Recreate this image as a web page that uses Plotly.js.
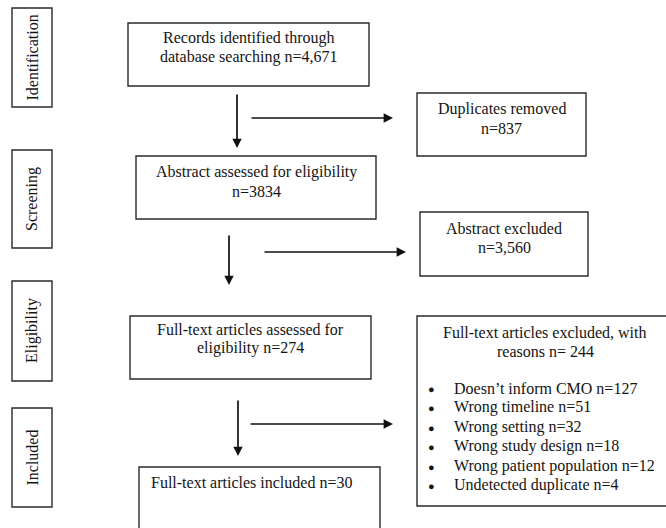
<!DOCTYPE html>
<html>
<head>
<meta charset="utf-8">
<script src="https://cdn.plot.ly/plotly-3.0.1.min.js"></script>
<style>html,body{margin:0;padding:0;background:#fff;}#chart{width:666px;height:528px;}</style>
</head>
<body>
<div id="chart"></div>
<script>
// ---- data ----
var stages = ["Identification", "Screening", "Eligibility", "Included"];
var flowLabels = [
  ["Records identified through", "database searching n=4,671"],
  ["Abstract assessed for eligibility", "n=3834"],
  ["Full-text articles assessed for", "eligibility n=274"],
  ["Full-text articles included n=30"]
];
var flowCounts = [4671, 3834, 274, 30];
var exclLabels = [
  ["Duplicates removed", "n=837"],
  ["Abstract excluded", "n=3,560"],
  ["Full-text articles excluded, with", "reasons n= 244"]
];
var exclCounts = [837, 3560, 244];
var reasons = ["Doesn\u2019t inform CMO", "Wrong timeline", "Wrong setting", "Wrong study design", "Wrong patient population", "Undetected duplicate"];
var reasonCounts = [127, 51, 32, 18, 12, 4];

// ---- layout geometry (pixels) ----
var stageBoxes = [[12, 8, 52, 107], [12, 150, 52, 248], [12, 281, 52, 381], [12, 408, 52, 507]];
var flowBoxes = [[128, 23, 369, 86], [136, 156, 376, 219], [130, 316, 371, 379], [139, 467, 380, 560]];
var flowTextY = [38, 172, 329, 482];
var exclBoxes = [[417, 93, 586, 156], [420, 212, 588, 276], [417, 316, 700, 506]];
var exclTextY = [109, 228, 332];
var downArrows = [[237, 93, 148], [229, 234, 285], [238, 399, 456]];
var sideArrows = [[250, 393, 118], [263, 406, 252], [249, 393, 424]];
var LH = 19.2;

var FONT = "Liberation Serif, Times New Roman, serif";
var TXT = "#141414";
var LINE = "#2a2a2a";
var shapes = [];
var ann = [];

function box(b) {
  shapes.push({type: "rect", xref: "x", yref: "y", x0: b[0], y0: b[1], x1: b[2], y1: b[3],
    line: {color: LINE, width: 1.4}, fillcolor: "rgba(0,0,0,0)"});
}
function label(x, y, t, opts, size) {
  var a = {x: x, y: y, xref: "x", yref: "y", text: t, showarrow: false,
    font: {family: FONT, size: size || 16, color: TXT}, xanchor: "center", yanchor: "middle", align: "center"};
  for (var k in opts) a[k] = opts[k];
  ann.push(a);
}
function arrow(x0, y0, x1, y1) {
  ann.push({x: x1, y: y1, ax: x0, ay: y0, xref: "x", yref: "y", axref: "x", ayref: "y",
    text: "", showarrow: true, arrowhead: 2, arrowsize: 1.1, arrowwidth: 1.7, arrowcolor: "#111", standoff: 0});
}

stages.forEach(function (s, i) {
  var b = stageBoxes[i];
  box(b);
  label((b[0] + b[2]) / 2, (b[1] + b[3]) / 2, s, {textangle: -90});
});

flowLabels.forEach(function (lines, i) {
  var b = flowBoxes[i];
  box(b);
  lines.forEach(function (t, j) {
    if (i < 3) label((b[0] + b[2]) / 2, flowTextY[i] + j * LH, t);
    else label(b[0] + 10, flowTextY[i] + j * LH, t, {xanchor: "left", align: "left"});
  });
});

exclLabels.forEach(function (lines, i) {
  var b = exclBoxes[i];
  box(b);
  var cx = i < 2 ? (b[0] + b[2]) / 2 : 545;
  lines.forEach(function (t, j) { label(cx, exclTextY[i] + j * LH, t); });
});

reasons.forEach(function (r, i) {
  var y = 388 + i * 19.4;
  label(431, y + 1, "\u25CF", {}, 11);
  label(452, y, r + " n=" + reasonCounts[i], {xanchor: "left", align: "left"});
});

downArrows.forEach(function (a) { arrow(a[0], a[1], a[0], a[2]); });
sideArrows.forEach(function (a) { arrow(a[0], a[2], a[1], a[2]); });

var layout = {
  width: 666, height: 528,
  margin: {l: 0, r: 0, t: 0, b: 0},
  paper_bgcolor: "#fff", plot_bgcolor: "#fff",
  xaxis: {range: [0, 666], visible: false, fixedrange: true},
  yaxis: {range: [528, 0], visible: false, fixedrange: true},
  shapes: shapes, annotations: ann, showlegend: false
};
Plotly.newPlot("chart", [], layout, {displayModeBar: false, staticPlot: true});
</script>
</body>
</html>
